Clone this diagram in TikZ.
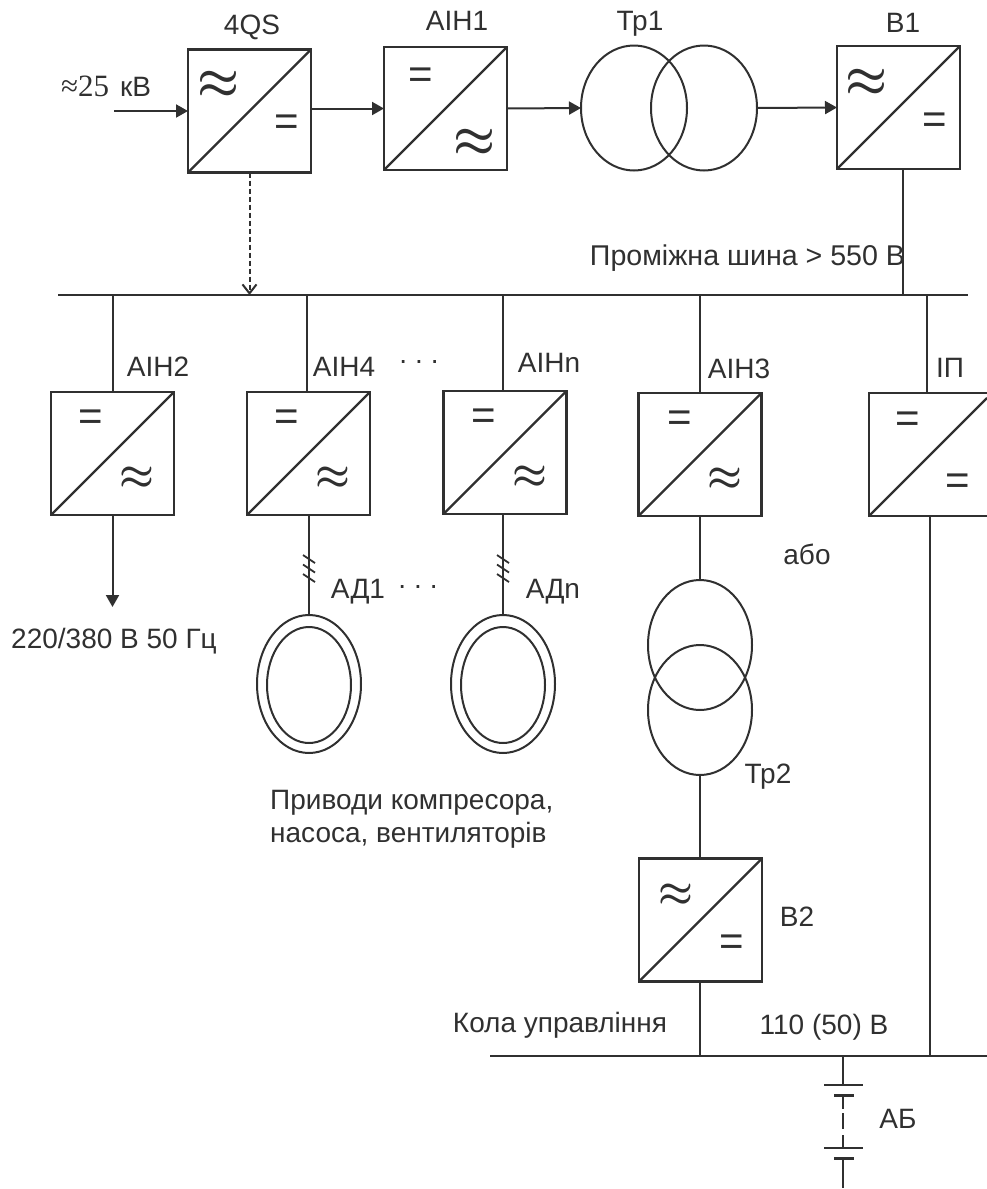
\documentclass[tikz,border=0pt]{standalone}
\usepackage{graphicx}
\usepackage{fontspec}
\setmainfont{Liberation Sans}
\newfontfamily\serifpart{Liberation Serif}
\usetikzlibrary{arrows.meta,shapes.geometric}
\definecolor{ink}{HTML}{303030}
\newcommand{\bigapx}{\scalebox{4.7}[5.0]{\boldmath$\approx$}}
\newcommand{\smallapx}{\scalebox{3.9}[4.1]{\boldmath$\approx$}}
\tikzset{
  x=1pt,y=-1pt,
  wire/.style={draw=ink,line width=2pt},
  conv/.style={draw=ink,line width=2.6pt,rectangle,minimum size=123pt,inner sep=0pt,outer sep=0pt},
  convbase/.style={rectangle,minimum width=118pt,minimum height=123pt,inner sep=0pt,outer sep=0pt},
  diag/.style={draw=ink,line width=2.2pt},
  coil/.style={draw=ink,line width=2pt,ellipse,inner sep=0pt,outer sep=0pt},
  lbl/.style={text=ink,inner sep=0pt,font=\fontsize{28}{33}\selectfont},
  eqs/.style={text=ink,inner sep=0pt,font=\fontsize{42}{42}\selectfont},
  apx/.style={text=ink,inner sep=0pt},
  arr/.style={wire,-{Triangle[length=12pt,width=13pt]}},
  oarr/.style={draw=ink,line width=2pt,dashed,dash pattern=on 5pt off 3pt,-{Straight Barb[length=9pt,width=14pt,line width=2pt]}},
  plate/.style={draw=ink,line width=1.8pt},
  plateb/.style={draw=ink,line width=3pt},
}
\begin{document}
\begin{tikzpicture}
\useasboundingbox (0,0) rectangle (987,1189);
% top row
\node[conv] (qs) at (249.5,111) {};
\node[conv] (ainone) at (445.5,108.5) {};
\node[coil,minimum width=106pt,minimum height=125pt] (trl) at (634,108) {};
\node[coil,minimum width=106pt,minimum height=125pt] (trr) at (704,108) {};
\node[conv] (bone) at (898.5,107.5) {};
\draw[diag] (qs.south west) -- (qs.north east);
\draw[diag] (ainone.south west) -- (ainone.north east);
\draw[diag] (bone.south west) -- (bone.north east);
\coordinate (inp) at (114,111);
\draw[arr] (inp) -- (qs.west);
\draw[arr] (qs.east |- ainone.west) -- (ainone.west);
\draw[arr] (ainone.east) -- (trl.west);
\draw[arr] (trr.east) -- (bone.west);
% buses
\coordinate (busl) at (58,295);
\coordinate (busr) at (968,295);
\draw[wire] (busl) -- (busr);
\coordinate (lbl) at (490,1056);
\coordinate (lbr) at (987,1056);
\draw[wire] (lbl) -- (lbr);
\draw[oarr] (qs.south) -- (qs.south |- busl);
\coordinate (bdrop) at (903,169);
\draw[wire] (bdrop) -- (bdrop |- busl);
% middle row
\node[conv] (aintwo) at (112.5,453.5) {};
\node[conv] (ainfour) at (308.5,453.5) {};
\node[conv] (ainn) at (505,452.5) {};
\node[conv] (ainthree) at (700,454.5) {};
\node[convbase] (ip) at (928,454.5) {};
\draw[draw=ink,line width=2.6pt] (ip.north east) -- (ip.north west) -- (ip.south west) -- (ip.south east);
\coordinate (ipdiag) at (987,398);
\draw[diag] (ip.south west) -- (ipdiag);
\draw[diag] (aintwo.south west) -- (aintwo.north east);
\draw[diag] (ainfour.south west) -- (ainfour.north east);
\draw[diag] (ainn.south west) -- (ainn.north east);
\draw[diag] (ainthree.south west) -- (ainthree.north east);
\draw[wire] (aintwo.north) -- (aintwo.north |- busl);
\coordinate (ffour) at (307,392);
\draw[wire] (ffour) -- (ffour |- busl);
\coordinate (fn) at (503,391);
\draw[wire] (fn) -- (fn |- busl);
\draw[wire] (ainthree.north) -- (ainthree.north |- busl);
\coordinate (iptop) at (927,393);
\draw[wire] (iptop) -- (iptop |- busl);
\coordinate (ipbot) at (930,516);
\draw[wire] (ipbot) -- (ipbot |- lbl);
\coordinate (out) at (112.5,607);
\draw[arr] (aintwo.south) -- (out);
% motors
\node[coil,minimum width=104pt,minimum height=138pt] (mone) at (309,684) {};
\node[coil,minimum width=84pt,minimum height=116pt] (moneb) at (309,685) {};
\node[coil,minimum width=104pt,minimum height=138pt] (mtwo) at (503,684) {};
\node[coil,minimum width=84pt,minimum height=116pt] (mtwob) at (503,685) {};
\draw[wire] (mone.north |- ainfour.south) -- (mone.north);
\draw[wire] (mtwo.north |- ainn.south) -- (mtwo.north);
\foreach \xx in {309,503}\foreach \yy in {555,564.5,574}{
  \draw[draw=ink,line width=1.8pt] (\xx-6,\yy) -- (\xx+6,\yy+8);
}
% AIH3 chain
\node[coil,minimum width=104pt,minimum height=130pt] (tu) at (700,645) {};
\node[coil,minimum width=104pt,minimum height=130pt] (tl) at (700,710) {};
\node[conv] (btwo) at (700.5,920) {};
\draw[diag] (btwo.south west) -- (btwo.north east);
\draw[wire] (ainthree.south) -- (tu.north);
\draw[wire] (tl.south) -- (tl.south |- btwo.north);
\draw[wire] (tl.south |- btwo.south) -- (tl.south |- lbl);
% battery
\coordinate (ba) at (843,1056);
\coordinate (bb) at (843,1085);
\coordinate (bc) at (843,1095);
\coordinate (bd) at (843,1109);
\coordinate (be) at (843,1113);
\coordinate (bf) at (843,1129);
\coordinate (bg) at (843,1135);
\coordinate (bh) at (843,1148);
\coordinate (bi) at (843,1158);
\coordinate (bj) at (843,1188);
\draw[wire] (ba) -- (bb);
\draw[plate] (824,1085) -- (863,1085);
\draw[plateb] (834,1095) -- (854,1095);
\draw[wire] (bc) -- (bd);
\draw[wire] (be) -- (bf);
\draw[wire] (bg) -- (bh);
\draw[plate] (824,1148) -- (863,1148);
\draw[plateb] (834,1158) -- (854,1158);
\draw[wire] (bi) -- (bj);
% symbols
\node[apx] (s1) at (219,85) {\bigapx};
\node[eqs] (e1) at (287,125) {=};
\node[eqs] (e2) at (421,78) {=};
\node[apx] (s2) at (475,143) {\bigapx};
\node[apx] (s3) at (867,83) {\bigapx};
\node[eqs] (e3) at (935,123) {=};
\node[eqs] (e4) at (91,420) {=};
\node[apx] (s4) at (137,478) {\smallapx};
\node[eqs] (e5) at (287,420) {=};
\node[apx] (s5) at (333,478) {\smallapx};
\node[eqs] (e6) at (484,419) {=};
\node[apx] (s6) at (530,477) {\smallapx};
\node[eqs] (e7) at (680,421) {=};
\node[apx] (s7) at (725,479) {\smallapx};
\node[eqs] (e8) at (908,422) {=};
\node[eqs] (e9) at (958,484) {=};
\node[apx] (s8) at (676,895) {\smallapx};
\node[eqs] (e10) at (732,945) {=};
% labels
\node[lbl] (t1) at (252,27) {4QS};
\node[lbl] (t2) at (457,21) {АІН1};
\node[lbl] (t3) at (640,24) {Тр1};
\node[lbl] (t4) at (903,23) {В1};
\node[text=ink,inner sep=0pt,anchor=west] (t5) at (61,86) {\fontsize{31}{33}\selectfont\serifpart ≈25\hspace{11pt}\fontsize{28}{33}\selectfont\rmfamily кВ};
\node[lbl,font=\fontsize{28.6}{33}\selectfont] (t6) at (747.5,258) {Проміжна шина > 550 В};
\node[lbl] (t7) at (158,367) {АІН2};
\node[lbl] (t8) at (344,367) {АІН4};
\node[lbl] (t9) at (419,362) {.\hspace{8pt}.\hspace{8pt}.};
\node[lbl] (t10) at (549,363) {АІНn};
\node[lbl] (t11) at (739,369) {АІН3};
\node[lbl] (t12) at (950,368) {ІП};
\node[lbl] (t13) at (114,641) {220/380 В 50 Гц};
\node[lbl] (t14) at (358,592) {АД1};
\node[lbl] (t15) at (418,587) {.\hspace{8pt}.\hspace{8pt}.};
\node[lbl] (t16) at (553,592) {АДn};
\node[lbl] (t17) at (807,554) {або};
\node[lbl] (t18) at (768,777) {Тр2};
\node[lbl,anchor=west,align=left] (t19) at (270,819) {Приводи компресора,\\насоса, вентиляторів};
\node[lbl] (t20) at (797,917) {В2};
\node[lbl] (t21) at (560,1025) {Кола управління};
\node[lbl] (t22) at (824,1027) {110 (50) В};
\node[lbl] (t23) at (898,1119) {АБ};
\end{tikzpicture}
\end{document}
